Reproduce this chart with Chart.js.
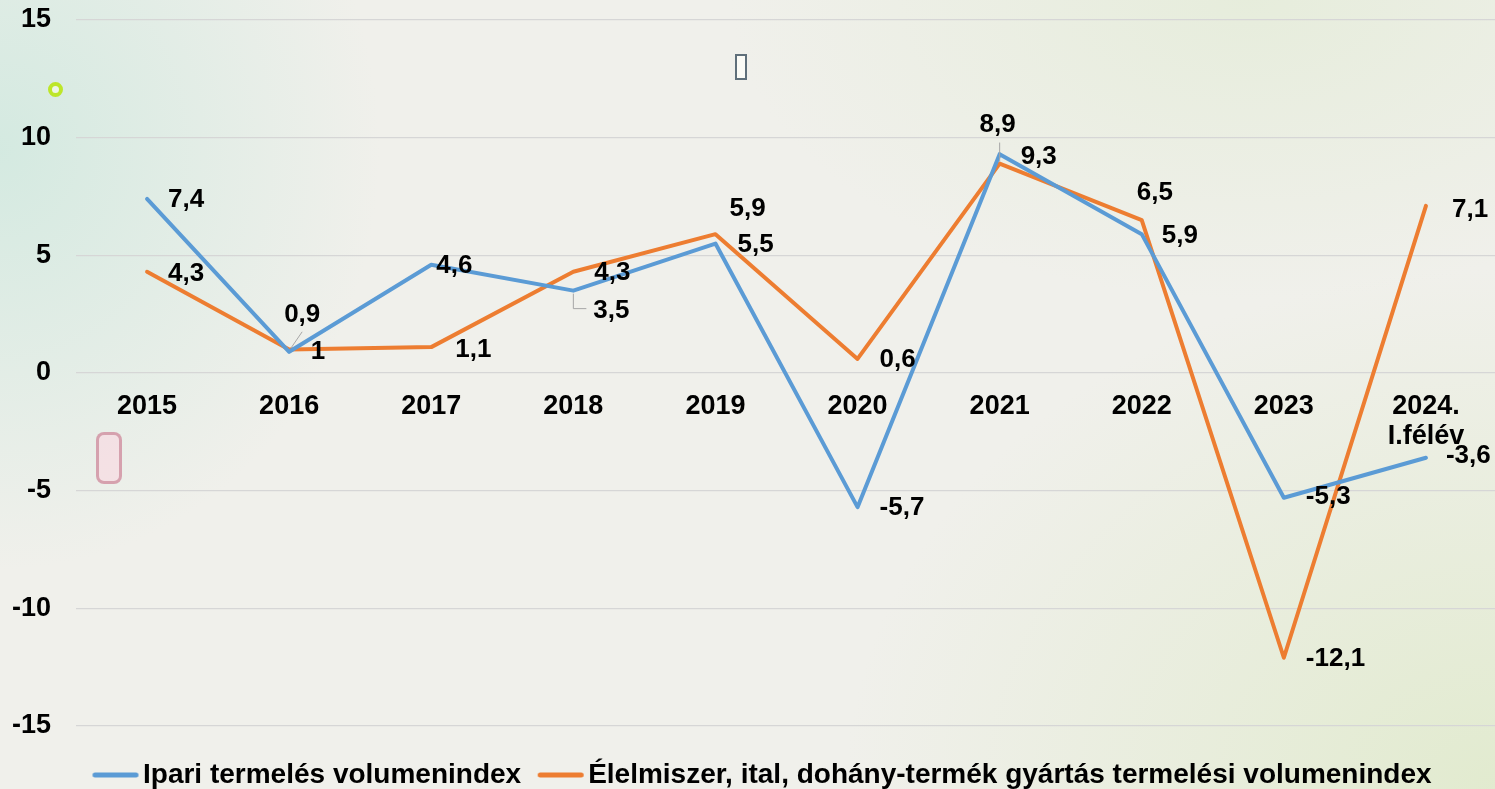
<!DOCTYPE html>
<html>
<head>
<meta charset="utf-8">
<script src="https://cdn.jsdelivr.net/npm/chart.js@4.4.1/dist/chart.umd.min.js"></script>
<style>
  html, body { margin: 0; padding: 0; width: 1495px; height: 789px; overflow: hidden; }
  body {
    background:
      radial-gradient(ellipse 380px 420px at 0px 150px, rgba(205,232,222,0.8), rgba(205,232,222,0) 100%),
      radial-gradient(ellipse 650px 520px at 1495px 789px, rgba(224,234,204,0.9), rgba(224,234,204,0) 100%),
      radial-gradient(ellipse 520px 300px at 1250px 0px, rgba(228,236,216,0.8), rgba(228,236,216,0) 100%),
      #f0f0eb;
    position: relative;
  }
  #wrap { position: absolute; left: 0; top: 0; width: 1497px; height: 789px; }
  .tofu { position: absolute; box-sizing: border-box; }
</style>
</head>
<body>
<div id="wrap"><canvas id="c"></canvas></div>
<div class="tofu" style="left:48px;top:82px;width:15px;height:15px;border:4px solid #bde62a;border-radius:50%;background:#eef6e8;"></div>
<div class="tofu" style="left:735px;top:54px;width:12px;height:26px;border:2px solid #5f6f7a;background:#fbfbf6;"></div>
<div class="tofu" style="left:96px;top:432px;width:26px;height:52px;border:3px solid rgba(190,110,130,0.55);border-radius:8px;background:rgba(250,215,225,0.6);"></div>
<script>
const categories = ['2015', '2016', '2017', '2018', '2019', '2020', '2021', '2022', '2023', ['2024.', 'I.félév']];
const ipariValues = [7.4, 0.9, 4.6, 3.5, 5.5, -5.7, 9.3, 5.9, -5.3, -3.6];
const elelmiszerValues = [4.3, 1, 1.1, 4.3, 5.9, 0.6, 8.9, 6.5, -12.1, 7.1];
const seriesNames = ['Ipari termelés volumenindex', 'Élelmiszer, ital, dohány-termék gyártás termelési volumenindex'];
const seriesColors = ['#5b9bd5', '#ed7d31'];
const yTickValues = [-15, -10, -5, 0, 5, 10, 15];

// label placement (dx, dy from point, text align) per series
const labelPlacement = [
  [[21,1,'left'],[-5,-37,'left'],[5,1,'left'],[20,20,'left'],[22,1,'left'],[22,1,'left'],[21,3,'left'],[20,2,'left'],[22,-1,'left'],[20,-2,'left']],
  [[21,2,'left'],[21.5,2,'left'],[24,3,'left'],[21,1,'left'],[14,-25,'left'],[22,1,'left'],[-2,-39,'center'],[-5,-27,'left'],[22,1,'left'],[26,4,'left']]
];
const leaderLines = [
  {ds:0, i:1, path:[[2,-4],[13,-20]]},
  {ds:0, i:3, path:[[0,3],[0,18],[13,18]]},
  {ds:1, i:6, path:[[0,-21],[0,-2]]}
];

const FONT = "'Liberation Sans', Arial, Helvetica, sans-serif";

function makeMarker(color) {
  const c = document.createElement('canvas');
  c.width = 48; c.height = 6;
  const g = c.getContext('2d');
  g.strokeStyle = color; g.lineWidth = 5; g.lineCap = 'round';
  g.beginPath(); g.moveTo(3.5, 3); g.lineTo(44.5, 3); g.stroke();
  return c;
}

const labelPlugin = {
  id: 'valueLabels',
  afterDatasetsDraw(chart) {
    const ctx = chart.ctx;
    ctx.save();
    ctx.strokeStyle = '#a6a6a6';
    ctx.lineWidth = 1;
    leaderLines.forEach(l => {
      const p = chart.getDatasetMeta(l.ds).data[l.i];
      ctx.beginPath();
      l.path.forEach((pt, k) => {
        if (k === 0) ctx.moveTo(p.x + pt[0], p.y + pt[1]);
        else ctx.lineTo(p.x + pt[0], p.y + pt[1]);
      });
      ctx.stroke();
    });
    ctx.font = "bold 26px " + FONT;
    ctx.fillStyle = '#000';
    ctx.textBaseline = 'middle';
    chart.data.datasets.forEach((ds, di) => {
      const meta = chart.getDatasetMeta(di);
      meta.data.forEach((pt, i) => {
        const v = ds.data[i];
        const [dx, dy, align] = labelPlacement[di][i];
        ctx.textAlign = align;
        ctx.fillText(String(v).replace('.', ','), pt.x + dx, pt.y + dy);
      });
    });
    ctx.restore();
  }
};

new Chart(document.getElementById('c'), {
  type: 'line',
  data: {
    labels: categories,
    datasets: [
      { label: seriesNames[0], data: ipariValues, borderColor: seriesColors[0], backgroundColor: seriesColors[0],
        borderWidth: 4, pointRadius: 0, pointHoverRadius: 0, tension: 0, borderCapStyle: 'round', borderJoinStyle: 'round',
        pointStyle: makeMarker(seriesColors[0]) },
      { label: seriesNames[1], data: elelmiszerValues, borderColor: seriesColors[1], backgroundColor: seriesColors[1],
        borderWidth: 4, pointRadius: 0, pointHoverRadius: 0, tension: 0, borderCapStyle: 'round', borderJoinStyle: 'round',
        pointStyle: makeMarker(seriesColors[1]) }
    ]
  },
  options: {
    responsive: true,
    maintainAspectRatio: false,
    animation: false,
    layout: { padding: { top: 20, left: 0, right: 0, bottom: 0 } },
    scales: {
      x: {
        type: 'category',
        position: { y: 0 },
        offset: true,
        grid: { display: false, drawTicks: false },
        border: { display: false },
        ticks: { color: '#000', padding: 19, maxRotation: 0, autoSkip: false,
          font: { family: FONT, size: 27, weight: 'bold', lineHeight: '30px' } }
      },
      y: {
        min: -15, max: 15,
        afterBuildTicks(scale) { scale.ticks = yTickValues.map(v => ({ value: v })); },
        afterFit(scale) { scale.width = 76; scale.paddingTop = 0; scale.paddingBottom = 0; },
        grid: { color: '#d6d6d6', lineWidth: 1.3, drawTicks: false },
        border: { display: false },
        ticks: { color: '#000', padding: 25,
          font: { family: FONT, size: 27, weight: 'bold' } }
      }
    },
    plugins: {
      tooltip: { enabled: false },
      legend: {
        position: 'bottom',
        fullSize: false,
        align: 'start',
        maxHeight: 63,
        title: { display: true, text: ' ', padding: { top: 9, bottom: 0 }, font: { size: 1, lineHeight: '0px' } },
        labels: {
          usePointStyle: true,
          pointStyleWidth: 27,
          padding: 26,
          color: '#000',
          font: { family: FONT, size: 28, weight: 'bold' }
        }
      }
    }
  },
  plugins: [labelPlugin]
});
</script>
</body>
</html>
